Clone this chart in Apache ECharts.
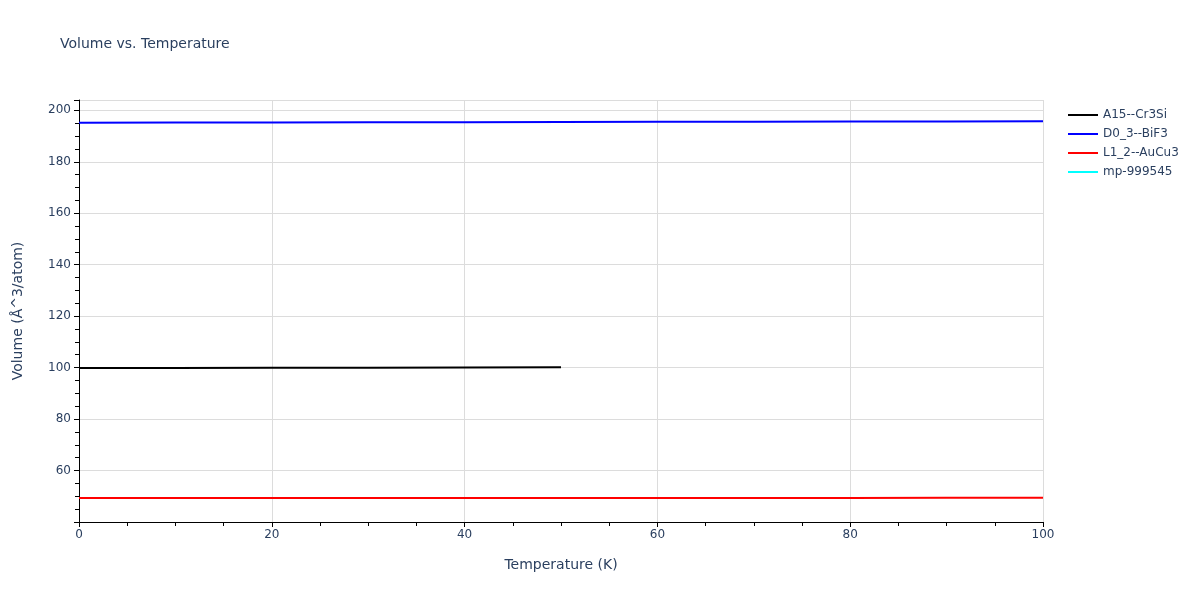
<!DOCTYPE html>
<html>
<head>
<meta charset="utf-8">
<script src="https://cdn.jsdelivr.net/npm/echarts@6/dist/echarts.min.js"></script>
<style>
  html, body { margin: 0; padding: 0; background: #fff; }
  #chart { width: 1200px; height: 600px; }
</style>
</head>
<body>
<div id="chart"></div>
<script>
// temperatures (K) and volumes (Å^3/atom)
const tempsA15 = [0, 10, 20, 30, 40, 50];
const volA15 = [99.8, 99.85, 99.9, 99.97, 100.03, 100.1];

const tempsD03 = [0, 10, 20, 30, 40, 50, 60, 70, 80, 90, 100];
const volD03 = [195.2, 195.25, 195.3, 195.35, 195.4, 195.45, 195.5, 195.55, 195.6, 195.65, 195.7];

const tempsL12 = [0, 10, 20, 30, 40, 50, 60, 70, 80, 90, 100];
const volL12 = [49.3, 49.3, 49.31, 49.32, 49.33, 49.34, 49.35, 49.36, 49.37, 49.38, 49.4];

const tempsMp = [];
const volMp = [];

const seriesNames = ['A15--Cr3Si', 'D0_3--BiF3', 'L1_2--AuCu3', 'mp-999545'];
const seriesColors = ['#000000', '#0000ff', '#ff0000', '#00ffff'];

const pairs = (xs, ys) => xs.map((x, i) => [x, ys[i]]);
const seriesData = [
  pairs(tempsA15, volA15),
  pairs(tempsD03, volD03),
  pairs(tempsL12, volL12),
  pairs(tempsMp, volMp)
];

const font = '"DejaVu Sans", Verdana, sans-serif';
const textColor = '#2a3f5f';

const chart = echarts.init(document.getElementById('chart'));

const option = {
  backgroundColor: '#ffffff',
  animation: false,
  title: {
    text: 'Volume vs. Temperature',
    left: 60,
    top: 37,
    padding: 0,
    textStyle: { color: textColor, fontSize: 14, fontWeight: 'normal', fontFamily: font }
  },
  legend: {
    orient: 'vertical',
    left: 1068,
    top: 109,
    padding: 0,
    itemGap: 7,
    itemWidth: 30,
    itemHeight: 12,
    icon: 'path://M0,5 L30,5 L30,7 L0,7 Z',
    textStyle: { color: textColor, fontSize: 12, fontFamily: font },
    data: seriesNames
  },
  grid: { left: 79, right: 157, top: 100, bottom: 78, containLabel: false },
  xAxis: {
    type: 'value',
    min: 0,
    max: 100,
    interval: 20,
    name: 'Temperature (K)',
    nameLocation: 'middle',
    nameGap: 36,
    nameTextStyle: { color: textColor, fontSize: 14, fontFamily: font },
    axisLine: { show: true, lineStyle: { color: '#000', width: 1 } },
    axisTick: { show: true, length: 5, lineStyle: { color: '#000' } },
    minorTick: { show: true, splitNumber: 4, length: 4, lineStyle: { color: '#000' } },
    axisLabel: { color: textColor, fontSize: 12, fontFamily: font, margin: 7 },
    splitLine: { show: true, lineStyle: { color: '#dcdcdc', width: 1 } }
  },
  yAxis: {
    type: 'value',
    min: 40,
    max: 204,
    interval: 20,
    name: 'Volume (Å^3/atom)',
    nameLocation: 'middle',
    nameGap: 54,
    nameTextStyle: { color: textColor, fontSize: 14, fontFamily: font },
    axisLine: { show: true, onZero: false, lineStyle: { color: '#000', width: 1 } },
    axisTick: { show: true, length: 5, lineStyle: { color: '#000' } },
    minorTick: { show: true, splitNumber: 4, length: 4, lineStyle: { color: '#000' } },
    axisLabel: {
      color: textColor, fontSize: 12, fontFamily: font, margin: 8,
      showMinLabel: false, showMaxLabel: false
    },
    splitLine: { show: true, lineStyle: { color: '#dcdcdc', width: 1 } }
  },
  series: seriesNames.map((name, i) => ({
    name: name,
    type: 'line',
    data: seriesData[i],
    showSymbol: false,
    symbol: 'none',
    lineStyle: { color: seriesColors[i], width: 2 },
    itemStyle: { color: seriesColors[i] }
  }))
};

chart.setOption(option);
</script>
</body>
</html>
